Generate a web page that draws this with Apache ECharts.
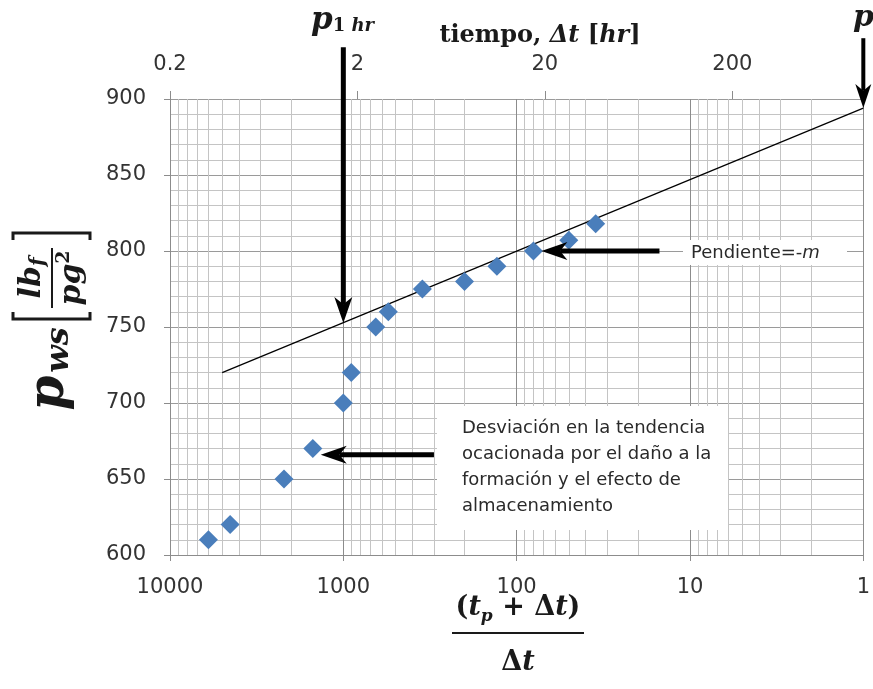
<!DOCTYPE html>
<html>
<head>
<meta charset="utf-8">
<script src="https://cdn.jsdelivr.net/npm/echarts@6/dist/echarts.min.js"></script>
<style>
  html, body { margin: 0; padding: 0; background: #fff; }
  #chart { width: 873px; height: 689px; }
</style>
</head>
<body>
<div id="chart"></div>
<script>
// Horner plot: p_ws vs (tp + dt)/dt, bottom axis log and reversed
const hornerRatio = [6000, 4500, 2200, 1500, 1000, 900, 650, 550, 350, 200, 130, 80, 50, 35];
const pws = [610, 620, 650, 670, 700, 720, 750, 760, 775, 780, 790, 800, 807, 818];

// straight line drawn through the late-time points
const trendRatio = [5000, 1];
const trendPws = [720, 894];
const p1hr = 752.6;

// top axis: shut-in time in hours (log), 0.2 .. 1000
const topTicks = [0.2, 2, 20, 200];
const topMin = 0.2;
const topMax = 1000;

const labelFont = 'DejaVu Sans';
const mathFont = 'DejaVu Serif';
const ink = '#1a1a1a';

// minor vertical grid values for the log axis
const minorX = [];
[1, 10, 100, 1000].forEach(d => {
  for (let k = 2; k <= 9; k++) minorX.push({ xAxis: k * d });
});

const chart = echarts.init(document.getElementById('chart'), null, { renderer: 'canvas' });

const option = {
  animation: false,
  backgroundColor: '#fff',
  grid: { left: 170, right: 7, top: 99, bottom: 134 },
  xAxis: [
    {
      type: 'log',
      logBase: 10,
      min: 1,
      max: 10000,
      inverse: true,
      position: 'bottom',
      axisLine: { show: true, lineStyle: { color: '#8c8c8c', width: 1 } },
      axisTick: { show: true, length: 6, lineStyle: { color: '#8c8c8c' } },
      axisLabel: {
        margin: 22,
        fontFamily: labelFont,
        fontSize: 21,
        color: '#333',
        formatter: v => String(Math.round(v))
      },
      splitLine: { show: true, lineStyle: { color: '#8c8c8c', width: 1 } }
    },
    {
      type: 'value',
      position: 'top',
      min: 0,
      max: Math.log10(topMax / topMin),
      interval: 1,
      axisLine: { show: false },
      axisTick: { show: true, length: 8, lineStyle: { color: '#8c8c8c' } },
      axisLabel: {
        margin: 24,
        fontFamily: labelFont,
        fontSize: 21,
        color: '#333',
        showMaxLabel: false,
        formatter: (v) => {
          const i = Math.round(v);
          return topTicks[i] !== undefined ? String(topTicks[i]) : '';
        }
      },
      splitLine: { show: false }
    }
  ],
  yAxis: {
    type: 'value',
    min: 600,
    max: 900,
    interval: 50,
    axisLine: { show: true, lineStyle: { color: '#8c8c8c' } },
    axisTick: { show: true, length: 6, lineStyle: { color: '#8c8c8c' } },
    axisLabel: { margin: 24, fontFamily: labelFont, fontSize: 21, color: '#333' },
    splitLine: { show: true, lineStyle: { color: '#9a9a9a', width: 1 } },
    minorTick: { show: false, splitNumber: 5 },
    minorSplitLine: { show: true, lineStyle: { color: '#c4c4c4', width: 1 } }
  },
  series: [
    {
      name: 'pws',
      type: 'scatter',
      xAxisIndex: 0,
      yAxisIndex: 0,
      symbol: 'diamond',
      symbolSize: 19,
      z: 4,
      itemStyle: { color: '#4a7ebb', opacity: 1 },
      data: hornerRatio.map((r, i) => [r, pws[i]])
    },
    {
      name: 'recta',
      type: 'line',
      xAxisIndex: 0,
      yAxisIndex: 0,
      symbol: 'none',
      z: 3,
      lineStyle: { color: '#000', width: 1.2 },
      data: trendRatio.map((r, i) => [r, trendPws[i]]),
      markLine: {
        silent: true,
        z: 1,
        symbol: 'none',
        label: { show: false },
        lineStyle: { color: '#c4c4c4', width: 1, type: 'solid' },
        data: minorX
      }
    }
  ]
};
chart.setOption(option);

function px(pt) {
  return chart.convertToPixel({ xAxisIndex: 0, yAxisIndex: 0 }, pt);
}

function arrow(from, to, width, headLen, headHalf) {
  const a = px(from);
  const b = px(to);
  const dx = b[0] - a[0], dy = b[1] - a[1];
  const len = Math.hypot(dx, dy);
  const ux = dx / len, uy = dy / len;
  const nx = -uy, ny = ux;
  const base = [b[0] - ux * headLen, b[1] - uy * headLen];
  const notch = [b[0] - ux * headLen * 0.72, b[1] - uy * headLen * 0.72];
  return [
    {
      type: 'line', z: 60,
      shape: { x1: a[0], y1: a[1], x2: notch[0], y2: notch[1] },
      style: { stroke: '#000', lineWidth: width }
    },
    {
      type: 'polygon', z: 61,
      shape: { points: [b, [base[0] + nx * headHalf, base[1] + ny * headHalf], notch, [base[0] - nx * headHalf, base[1] - ny * headHalf]] },
      style: { fill: '#000' }
    }
  ];
}

const R = Math.PI / 2;
const graphics = [
  // top title
  {
    type: 'text', x: 540, y: 36, z: 70,
    style: {
      text: '{b|tiempo,}{i| Δt }{b|[}{i|hr}{b|]}',
      x: 0, y: 0, align: 'center', verticalAlign: 'middle',
      rich: {
        b: { fontFamily: mathFont, fontWeight: 'bold', fontSize: 24, fill: ink },
        i: { fontFamily: mathFont, fontWeight: 'bold', fontStyle: 'italic', fontSize: 24, fill: ink }
      }
    }
  },
  // p 1hr label
  {
    type: 'text', z: 70,
    style: {
      text: '{p|p}{s|1 }{si|hr}',
      x: 311, y: 20, align: 'left', verticalAlign: 'middle',
      rich: {
        p: { fontFamily: mathFont, fontWeight: 'bold', fontStyle: 'italic', fontSize: 31, fill: ink, verticalAlign: 'top', lineHeight: 30 },
        s: { fontFamily: mathFont, fontWeight: 'bold', fontSize: 18, fill: ink, verticalAlign: 'bottom', lineHeight: 22 },
        si: { fontFamily: mathFont, fontWeight: 'bold', fontStyle: 'italic', fontSize: 18, fill: ink, verticalAlign: 'bottom', lineHeight: 22 }
      }
    }
  },
  // p* label at right edge (cut off)
  {
    type: 'text', z: 70,
    style: {
      text: 'p', x: 853, y: 18, align: 'left', verticalAlign: 'middle',
      fontFamily: mathFont, fontWeight: 'bold', fontStyle: 'italic', fontSize: 30, fill: ink
    }
  },
  // bottom axis title: fraction
  {
    type: 'text', z: 70,
    style: {
      text: '{n|(}{i|t}{s|p}{n| + Δ}{i|t}{n|)}',
      x: 518, y: 608, align: 'center', verticalAlign: 'middle',
      rich: {
        n: { fontFamily: mathFont, fontWeight: 'bold', fontSize: 27, fill: ink, verticalAlign: 'middle', lineHeight: 34 },
        i: { fontFamily: mathFont, fontWeight: 'bold', fontStyle: 'italic', fontSize: 27, fill: ink, verticalAlign: 'middle', lineHeight: 34 },
        s: { fontFamily: mathFont, fontWeight: 'bold', fontStyle: 'italic', fontSize: 17, fill: ink, verticalAlign: 'bottom', lineHeight: 34 }
      }
    }
  },
  {
    type: 'line', z: 70,
    shape: { x1: 452, y1: 633, x2: 584, y2: 633 },
    style: { stroke: ink, lineWidth: 2 }
  },
  {
    type: 'text', z: 70,
    style: {
      text: '{n|Δ}{i|t}', x: 518, y: 663, align: 'center', verticalAlign: 'middle',
      rich: {
        n: { fontFamily: mathFont, fontWeight: 'bold', fontSize: 27, fill: ink },
        i: { fontFamily: mathFont, fontWeight: 'bold', fontStyle: 'italic', fontSize: 27, fill: ink }
      }
    }
  },
  // y axis title (rotated)
  {
    type: 'text', z: 70, x: 50, y: 393, rotation: R,
    style: {
      text: 'p', x: 0, y: 0, align: 'center', verticalAlign: 'middle',
      fontFamily: mathFont, fontWeight: 'bold', fontStyle: 'italic', fontSize: 50, fill: ink
    }
  },
  {
    type: 'text', z: 70, x: 60, y: 350, rotation: R,
    style: {
      text: 'ws', x: 0, y: 0, align: 'center', verticalAlign: 'middle',
      fontFamily: mathFont, fontWeight: 'bold', fontStyle: 'italic', fontSize: 32, fill: ink
    }
  },
  {
    type: 'polyline', z: 70,
    shape: { points: [[13, 312], [13, 319], [90, 319], [90, 312]] },
    style: { stroke: ink, lineWidth: 3, fill: null }
  },
  {
    type: 'polyline', z: 70,
    shape: { points: [[13, 240], [13, 233], [90, 233], [90, 240]] },
    style: { stroke: ink, lineWidth: 3, fill: null }
  },
  {
    type: 'line', z: 70,
    shape: { x1: 52, y1: 248, x2: 52, y2: 308 },
    style: { stroke: ink, lineWidth: 2 }
  },
  {
    type: 'text', z: 70, x: 32, y: 278, rotation: R,
    style: {
      text: '{a|lb}{b|f}', x: 0, y: 0, align: 'center', verticalAlign: 'middle',
      rich: {
        a: { fontFamily: mathFont, fontWeight: 'bold', fontStyle: 'italic', fontSize: 30, fill: ink, verticalAlign: 'middle', lineHeight: 34 },
        b: { fontFamily: mathFont, fontWeight: 'bold', fontStyle: 'italic', fontSize: 20, fill: ink, verticalAlign: 'bottom', lineHeight: 34 }
      }
    }
  },
  {
    type: 'text', z: 70, x: 72, y: 278, rotation: R,
    style: {
      text: '{a|pg}{b|2}', x: 0, y: 0, align: 'center', verticalAlign: 'middle',
      rich: {
        a: { fontFamily: mathFont, fontWeight: 'bold', fontStyle: 'italic', fontSize: 30, fill: ink, verticalAlign: 'middle', lineHeight: 34 },
        b: { fontFamily: mathFont, fontWeight: 'bold', fontSize: 19, fill: ink, verticalAlign: 'top', lineHeight: 34 }
      }
    }
  },
  // Pendiente label
  {
    type: 'rect', z: 50,
    shape: { x: 683, y: 240, width: 164, height: 25 },
    style: { fill: '#fff' }
  },
  {
    type: 'text', z: 51,
    style: {
      text: '{a|Pendiente=-}{b|m}', x: 691, y: 253, align: 'left', verticalAlign: 'middle',
      rich: {
        a: { fontFamily: labelFont, fontSize: 18, fill: '#2a2a2a' },
        b: { fontFamily: labelFont, fontStyle: 'italic', fontSize: 18, fill: '#2a2a2a' }
      }
    }
  },
  // deviation note
  {
    type: 'rect', z: 50,
    shape: { x: 437, y: 406, width: 291, height: 124 },
    style: { fill: '#fff' }
  },
  {
    type: 'text', z: 51,
    style: {
      text: 'Desviación en la tendencia\nocacionada por el daño a la\nformación y el efecto de\nalmacenamiento',
      x: 462, y: 415, align: 'left', verticalAlign: 'top',
      fontFamily: labelFont, fontSize: 18, lineHeight: 26, fill: '#2a2a2a'
    }
  }
];

// arrows anchored in data coordinates
graphics.push(...arrow([1000, 934], [1000, p1hr], 5, 26, 9));
graphics.push(...arrow([1, 940], [1, trendPws[1]], 4, 24, 8));
graphics.push(...arrow([15, 800], [72, 800], 5, 26, 9));
graphics.push(...arrow([300, 666], [1350, 666], 5, 26, 9));

chart.setOption({ graphic: graphics });
</script>
</body>
</html>
